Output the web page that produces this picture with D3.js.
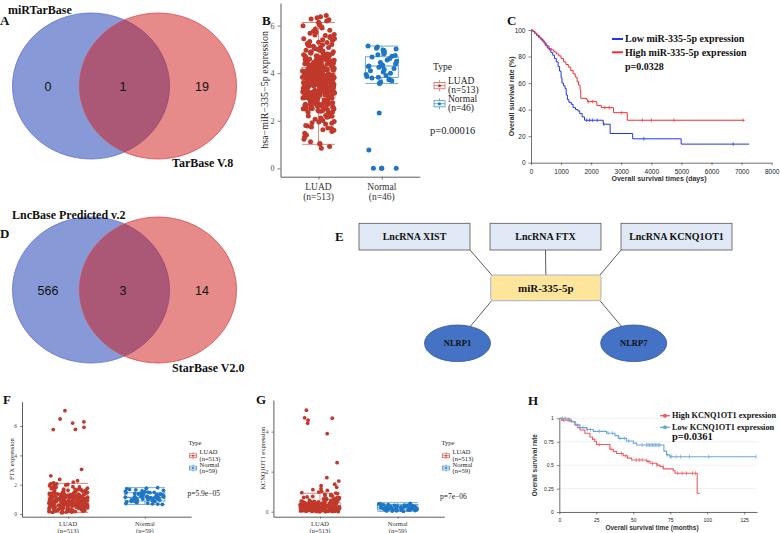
<!DOCTYPE html>
<html>
<head>
<meta charset="utf-8">
<script src="https://cdn.jsdelivr.net/npm/d3@7"></script>
<style>
body { margin: 0; background: #fff; }
svg { display: block; }
</style>
</head>
<body>
<svg id="fig" width="780" height="533"></svg>
<script>
'use strict';

const serif = "'Liberation Serif','Times New Roman',serif";
const sans = "'Liberation Sans',Arial,sans-serif";

// ---- Venn diagrams (A, D)
const vennA = [0, 1, 19];
const vennASets = ["miRTarBase", "TarBase V.8"];
const vennD = [566, 3, 14];
const vennDSets = ["LncBase Predicted v.2", "StarBase V2.0"];

// ---- box / jitter panels (B, F, G)
const groups = ["LUAD", "Normal"];
const nB = [513, 46];
const nFG = [513, 59];
const pTexts = ["p=0.00016", "p=5.9e\u221205", "p=7e\u221206"];
// whisker low, q1, median, q3, whisker high
const statsB = [[1.01, 2.95, 3.5, 4.24, 6.13], [3.57, 3.82, 4.3, 4.69, 5.14]];
const statsF = [[0.1, 0.61, 0.95, 1.3, 2.09], [0.66, 0.89, 1.14, 1.45, 1.8]];
const statsG = [[0, 0.13, 0.25, 0.45, 0.92], [0.02, 0.09, 0.2, 0.36, 0.45]];

const luadB = [6.42,6.37,6.33,6.28,6.25,6.19,6.14,6.1,6.04,5.99,5.95,5.9,5.86,5.81,5.76,5.72,5.68,5.63,5.58,5.54,5.5,5.45,5.41,5.37,5.33,5.29,5.25,5.21,5.17,5.13,5.09,5.06,5.03,4.99,4.96,4.93,4.9,4.87,4.84,4.81,4.78,4.75,4.72,4.69,4.66,4.63,4.6,4.57,4.54,4.51,4.48,4.46,4.43,4.4,4.37,4.35,4.32,4.29,4.27,4.25,
  4.22,4.18,4.24,4.11,4.15,4.07,4.2,4.02,4.13,3.98,4.05,3.94,4.09,3.9,4.0,3.87,3.96,3.83,4.17,3.8,3.92,3.77,3.85,3.74,4.01,3.71,3.88,3.68,3.79,3.65,3.95,3.62,3.73,3.59,3.82,3.56,3.67,3.53,3.76,3.5,3.61,3.47,3.7,3.44,3.55,3.41,3.64,3.38,3.49,3.35,3.58,3.32,3.43,3.29,3.52,3.26,3.37,3.23,3.46,3.2,3.31,3.17,3.4,3.14,3.25,3.11,3.34,3.08,3.19,3.05,3.28,3.02,3.13,2.99,3.22,2.96,3.07,3.16,3.01,3.1,2.97,3.04,
  4.12,3.97,3.84,3.72,3.6,3.48,3.36,3.24,3.12,3.0,4.08,3.93,3.81,3.69,3.57,3.45,3.33,3.21,3.09,2.98,4.16,4.04,3.89,3.78,3.66,3.54,3.42,3.3,3.18,3.06,4.19,3.99,3.86,3.63,3.39,3.15,
  2.93,2.9,2.86,2.83,2.79,2.75,2.71,2.68,2.64,2.6,2.55,2.51,2.46,2.42,2.37,2.33,2.28,2.22,2.17,2.12,2.06,2.01,1.95,1.9,1.86,1.8,1.74,1.68,1.62,1.55,1.48,1.4,1.32,1.22,1.12,1.05,1.01,2.88,2.72,2.58,2.48,2.3,2.15,1.97,1.7,0.92,0.85,
  5.6,5.3,5.0,4.8,4.6,4.45,4.33,5.15,4.7,4.5,4.38,4.28,4.9,4.62,4.42,2.95,2.8,2.65,2.5,2.4,2.2,
  4.14,3.91,3.75,3.58,3.44,3.27,3.11,2.96,4.06,3.83,3.68,3.52,3.36,3.2,3.03,4.21,3.95,3.71,3.47,3.23,2.99,4.1,3.86,3.62,3.38,3.14,2.78,2.62,2.44,2.26,4.55,4.77,4.95,5.2,5.45,3.8,3.55,3.3,
  4.47,4.31,4.03,3.88,3.73,3.57,3.41,3.26,3.12,2.97,2.84,2.69,2.53,4.58,4.36,4.17,3.92,3.69,3.46,3.21,3.02,2.87,2.7,2.57,4.83,4.64,4.41,4.23,4.01,3.84,3.61,3.37,3.17,2.92,2.76,2.59,2.41,4.73,4.52,4.3,4.09,3.87,3.64,3.43,3.22,3.05,2.82,2.63,2.36,5.08,4.88,4.68,4.44,3.96,3.5,3.08,2.74,2.52,2.19,1.92,1.78,1.6];
const normB = [5.14,5.1,5.05,5.02,4.98,4.95,4.9,4.86,4.82,4.78,4.74,4.71,4.68,4.62,4.55,4.5,4.45,4.4,4.36,4.33,4.31,4.3,4.28,4.25,4.2,4.15,4.1,4.05,4.0,3.95,3.9,3.86,3.83,3.8,3.76,3.72,3.68,3.63,3.59,3.57,2.33,0.77,0,0,0,0];

const luadF = [7.05,6.48,6.29,6.2,5.91,5.77,5.76,3.05,2.61,2.36,2.27,2.18,2.12,2.08,2.05,2.02,1.98,1.95,1.93,1.9,1.87,1.85,1.82,1.8,1.78,1.76,1.73,1.71,1.69,1.66,1.64,1.62,1.6,1.58,1.55,1.53,1.51,1.49,1.47,1.45,1.43,1.41,1.39,1.37,1.35,1.33,1.31,1.3,1.28,1.27,1.25,1.24,1.22,1.21,1.19,1.18,1.16,1.15,1.13,1.12,1.1,1.09,1.07,1.06,1.04,1.03,1.01,1.0,0.98,0.97,0.95,0.94,0.92,0.91,0.89,0.88,0.86,0.85,0.83,0.82,0.8,0.79,0.77,0.76,0.74,0.73,0.71,0.7,0.68,0.67,0.65,0.64,0.62,0.61,0.59,0.57,0.55,0.53,0.51,0.49,0.47,0.45,0.43,0.41,0.39,0.37,0.35,0.33,0.31,0.29,0.27,0.25,0.23,0.21,0.19,0.17,0.15,0.13,0.11,0.09,
  1.26,1.14,1.02,0.93,0.84,0.72,0.66,1.36,1.2,1.08,0.96,0.87,0.78,0.63,1.5,1.32,1.17,1.05,0.9,0.81,0.69,1.23,1.11,0.99,0.9,0.75,0.6,1.29,1.07,0.94,0.86,0.58,1.4,1.18,0.97,0.82,0.7,0.52,1.15,1.0,0.88,0.65,1.34,1.09,0.8,0.46,
  1.27,1.19,1.03,0.95,0.87,0.74,0.68,0.56,0.44,0.32,0.2,1.13,1.05,0.91,0.79,0.62,0.38,0.26,0.14,1.22,0.99,0.84,0.71,0.5,0.3,
  1.44,1.31,1.21,1.12,1.04,0.96,0.89,0.81,0.73,0.66,0.57,0.48,0.4,0.28,0.16,1.57,1.38,1.25,1.16,1.06,0.98,0.9,0.83,0.76,0.69,0.6,0.54,0.42,0.34,0.22,1.7,1.47,1.33,1.2,1.1,1.01,0.93,0.85,0.77,0.7,0.63,0.55,0.45,0.36,0.24,0.12,1.83,1.62,1.42,1.28,1.17,1.08,0.92,0.78,0.61,0.47];
const normF = [1.8,1.76,1.72,1.68,1.65,1.62,1.58,1.55,1.52,1.5,1.48,1.46,1.45,1.43,1.41,1.4,1.38,1.36,1.35,1.33,1.31,1.3,1.28,1.27,1.25,1.24,1.22,1.21,1.2,1.19,1.18,1.16,1.15,1.13,1.12,1.1,1.09,1.07,1.05,1.04,1.02,1.0,0.99,0.97,0.96,0.95,0.93,0.91,0.89,0.87,0.85,0.83,0.8,0.78,0.75,0.72,0.7,0.68,0.66];

const luadG = [5.07,4.69,4.67,4.57,4.42,3.9,2.45,1.7,1.53,1.37,1.3,1.22,1.15,1.1,1.06,1.02,0.98,0.95,0.93,
  0.9,0.88,0.85,0.83,0.8,0.78,0.76,0.74,0.72,0.7,0.68,0.66,0.64,0.62,0.6,0.58,0.57,0.55,0.54,0.52,0.51,0.5,0.49,0.48,0.47,0.46,0.45,0.44,0.43,0.42,0.41,0.4,0.39,0.38,0.37,0.36,0.35,0.34,0.33,0.32,0.31,0.3,0.29,0.28,0.27,0.26,0.25,0.24,0.23,0.22,0.21,0.2,0.19,0.18,0.17,0.16,0.15,0.14,0.13,0.12,0.11,0.1,0.09,0.08,0.07,0.06,0.05,0.04,0.03,0.02,0.01,0.0,
  0.35,0.3,0.25,0.2,0.15,0.1,0.05,0.38,0.28,0.18,0.08,0.42,0.32,0.22,0.12,0.02,0.27,0.17,0.07,0.24,0.14,0.04,0.33,0.13,0.03,0.21,0.11,0.01,0.44,0.36,0.26,0.16,0.06,0.31,0.19,0.09,0.29,0.23,0.12,0.4,0.34,0.2,
  0.37,0.29,0.21,0.15,0.09,0.05,0.47,0.41,0.33,0.25,0.17,0.11,0.03,0.56,0.39,0.27,0.19,0.13,0.07,0.01,
  0.43,0.36,0.3,0.24,0.18,0.12,0.06,0.0,0.5,0.41,0.34,0.27,0.21,0.15,0.09,0.03,0.61,0.46,0.38,0.31,0.25,0.19,0.13,0.07,0.01,0.53,0.4,0.32,0.26,0.2,0.14,0.08,0.02,0.66,0.48,0.35,0.28,0.22,0.16,0.1,0.04,0.71,0.59,0.45,0.33,0.23,0.11,0.05,0.0,0.82,0.64,0.52,0.39];
const normG = [0.42,0.4,0.38,0.37,0.36,0.35,0.34,0.33,0.32,0.31,0.3,0.29,0.29,0.28,0.27,0.27,0.26,0.25,0.25,0.24,0.23,0.23,0.22,0.22,0.21,0.21,0.2,0.2,0.19,0.19,0.18,0.18,0.17,0.17,0.16,0.16,0.15,0.15,0.14,0.14,0.13,0.13,0.12,0.12,0.11,0.11,0.1,0.1,0.09,0.09,0.08,0.08,0.07,0.06,0.06,0.05,0.04,0.03,0.02];

// ---- survival panel C (days, %)
const cLow = [[0,100],[60,99],[120,97.5],[180,96],[250,94.5],[320,93],[400,91],[470,88.5],[540,86.5],[600,85],[660,83],[720,81],[780,78.5],[840,76],[900,72.5],[950,69],[1000,64],[1030,60],[1080,58],[1130,56],[1170,51],[1210,47.5],[1260,45.5],[1340,44],[1400,41.5],[1480,40],[1560,39],[1620,37],[1700,34.5],[1780,32],[2400,29],[2630,22],[3380,18],[4990,14],[7250,14]];
const cHigh = [[0,100],[60,99],[130,97.5],[200,96],[280,94],[360,92],[440,90],[520,88],[600,86],[680,85],[760,83.5],[840,82],[920,80.5],[1000,78.5],[1080,76],[1160,74],[1240,72],[1320,69.5],[1400,67],[1470,64.5],[1530,61],[1580,58.5],[1630,55],[1655,48.5],[1850,47.5],[1880,46],[2190,43],[2340,41.5],[2740,37.7],[3200,32],[7100,32]];
const cLowCens = [1850, 1950, 2050, 2200, 2420, 3750, 6720];
const cHighCens = [1900, 2050, 2450, 2600, 3000, 3700, 4000, 4750, 7050];
const cTicksX = [0, 1000, 2000, 3000, 4000, 5000, 6000, 7000, 8000];
const cTicksY = [0, 20, 40, 60, 80, 100];
const cLegend = ["Low miR-335-5p expression", "High miR-335-5p expression", "p=0.0328"];

// ---- survival panel H (months, fraction)
const hHigh = [[0,1],[1.6,0.98],[8.3,0.965],[10.6,0.93],[12.5,0.9],[14,0.875],[17.3,0.84],[20.7,0.8],[22.5,0.775],[24,0.75],[25.2,0.72],[34.2,0.67],[36.5,0.645],[38.7,0.625],[43.2,0.6],[46,0.575],[48.9,0.555],[59,0.54],[61.3,0.52],[66,0.5],[68,0.485],[70.3,0.46],[77,0.44],[78.2,0.413],[93.2,0.2],[95,0.2]];
const hLow = [[0,1],[7.2,0.965],[10.6,0.93],[14,0.9],[18.5,0.88],[23,0.86],[32,0.84],[37.6,0.815],[39.9,0.786],[45.5,0.758],[50,0.735],[52.3,0.715],[70.7,0.65],[72.5,0.61],[74.8,0.59],[133,0.59]];
const hHighCens = [3, 6, 27, 35, 42, 45, 52, 54, 56, 60, 63, 66, 70, 80, 83, 86, 90, 92];
const hLowCens = [2, 4, 12, 16, 19, 21, 27, 33, 36, 41, 44, 47, 56, 59, 60, 61, 62, 63, 64, 65, 66, 67, 68, 73, 75, 76, 79, 82, 88, 101, 133];
const hTicksX = [0, 25, 50, 75, 100, 125];
const hTicksY = [0, 0.25, 0.5, 0.75, 1];
const hLegend = ["High KCNQ1OT1 expression", "Low KCNQ1OT1 expression", "p=0.0361"];

// ---- network E
const lncRNAs = ["LncRNA XIST", "LncRNA FTX", "LncRNA KCNQ1OT1"];
const hub = "miR-335-5p";
const targets = ["NLRP1", "NLRP7"];

const svg = d3.select("#fig");

let letter = (t, x, y) => {
    svg.append("text").text(t).attr("x", x).attr("y", y)
        .attr("font-family", serif).attr("font-weight", "bold").attr("font-size", 13).attr("fill", "#111");
}

// deterministic jitter in [0,1) for point j (position only, not data)
let jit = (j, seed) => {
    const s = Math.sin((j + 1) * 12.9898 + seed * 78.233) * 43758.5453;
    return s - Math.floor(s);
}

let venn = (cx, cy, counts, sets, lab1, lab2) => {
    const g = svg.append("g");
    g.append("ellipse").attr("cx", cx - 33.5).attr("cy", cy).attr("rx", 78.5).attr("ry", 73)
        .attr("fill", "#8799d6").attr("stroke", "#5f72cf").attr("stroke-width", 0.8);
    g.append("ellipse").attr("cx", cx + 33.5).attr("cy", cy).attr("rx", 78.5).attr("ry", 73)
        .attr("fill", "rgb(206,26,26)").attr("fill-opacity", 0.51)
        .attr("stroke", "#d9474c").attr("stroke-width", 0.8);
    const offs = [-76.5, -1.5, 77.5];
    g.selectAll("text.cnt").data(counts).enter().append("text")
        .attr("class", "cnt")
        .text(d => d)
        .attr("x", (d, i) => cx + offs[i]).attr("y", cy + 4.5)
        .attr("text-anchor", "middle").attr("font-family", sans).attr("font-size", 12.5).attr("fill", "#111");
    g.append("text").text(sets[0]).attr("x", lab1[0]).attr("y", lab1[1])
        .attr("font-family", serif).attr("font-weight", "bold").attr("font-size", 12).attr("fill", "#111");
    g.append("text").text(sets[1]).attr("x", lab2[0]).attr("y", lab2[1])
        .attr("font-family", serif).attr("font-weight", "bold").attr("font-size", 12).attr("fill", "#111");
}

const cols = {
    LUAD: { dot: "#c0392b", box: "#d86a5d" },
    Normal: { dot: "#1f77c4", box: "#4b93d2" }
};

let boxPanel = (o) => {
    const g = svg.append("g");
    const x = d3.scalePoint().domain(groups).range([o.x0, o.x1]).padding(0.6);
    const y = d3.scaleLinear().domain(o.ydom).range([o.yb, o.yt]);
    const bw = x.step() * 0.52;

    // axes
    const ya = g.append("g").attr("transform", `translate(${o.x0},0)`)
        .call(d3.axisLeft(y).tickValues(o.yticks).tickSize(o.tk).tickSizeOuter(0).tickFormat(d3.format("d")));
    ya.selectAll("text").attr("font-family", serif).attr("font-size", o.tfs).attr("fill", "#4d4d4d");
    ya.selectAll("line").attr("stroke", "#333").attr("stroke-width", 0.6);
    ya.select(".domain").attr("stroke", "#333").attr("stroke-width", 0.8);
    const xa = g.append("g").attr("transform", `translate(0,${o.yb})`)
        .call(d3.axisBottom(x).tickSize(o.tk).tickSizeOuter(0).tickFormat(""));
    xa.selectAll("line").attr("stroke", "#333").attr("stroke-width", 0.6);
    xa.select(".domain").attr("stroke", "#333").attr("stroke-width", 0.8);
    groups.forEach((k, i) => {
        g.append("text").text(k).attr("x", x(k)).attr("y", o.yb + o.cfs * 1.45)
            .attr("text-anchor", "middle").attr("font-family", serif).attr("font-size", o.cfs).attr("fill", "#333");
        g.append("text").text(`(n=${o.n[i]})`).attr("x", x(k)).attr("y", o.yb + o.cfs * 2.45)
            .attr("text-anchor", "middle").attr("font-family", serif).attr("font-size", o.cfs).attr("fill", "#333");
    });
    g.append("text").text(o.ytitle)
        .attr("transform", `translate(${o.ytx},${(o.yt + o.yb) / 2}) rotate(-90)`)
        .attr("text-anchor", "middle").attr("font-family", serif).attr("font-size", o.yfs).attr("fill", "#222");

    // boxes
    groups.forEach((k, i) => {
        const s = o.stats[i];
        const cx = x(k);
        const c = cols[k].box;
        const bg = g.append("g").attr("stroke", c).attr("stroke-width", 0.8).attr("fill", "none");
        bg.append("line").attr("x1", cx).attr("x2", cx).attr("y1", y(s[4])).attr("y2", y(s[3]));
        bg.append("line").attr("x1", cx).attr("x2", cx).attr("y1", y(s[1])).attr("y2", y(s[0]));
        bg.append("line").attr("x1", cx - bw / 2).attr("x2", cx + bw / 2).attr("y1", y(s[4])).attr("y2", y(s[4]));
        bg.append("line").attr("x1", cx - bw / 2).attr("x2", cx + bw / 2).attr("y1", y(s[0])).attr("y2", y(s[0]));
        bg.append("rect").attr("x", cx - bw / 2).attr("width", bw).attr("y", y(s[3])).attr("height", y(s[1]) - y(s[3]));
        bg.append("line").attr("x1", cx - bw / 2).attr("x2", cx + bw / 2).attr("y1", y(s[2])).attr("y2", y(s[2]))
            .attr("stroke-width", 1.1);
    });

    // jittered points
    groups.forEach((k, i) => {
        const cx = x(k);
        g.append("g").selectAll("circle").data(o.vals[i]).enter().append("circle")
            .attr("cx", (d, j) => cx + (jit(j, i + o.seed) - 0.5) * bw * 0.98)
            .attr("cy", d => y(d))
            .attr("r", o.r)
            .attr("fill", cols[k].dot);
    });

    // legend
    const L = o.leg;
    g.append("text").text("Type").attr("x", L.x).attr("y", L.y)
        .attr("font-family", serif).attr("font-size", L.fs).attr("fill", "#222");
    groups.forEach((k, i) => {
        const base = L.y + L.fs * 1.45 + i * L.fs * 1.9;
        const kx = L.x + L.ks / 2 + 1;
        const ky = base + L.fs * 0.2 - L.ks / 2;
        const c = cols[k];
        const kg = g.append("g").attr("stroke", c.box).attr("stroke-width", 0.8).attr("fill", "none");
        kg.append("line").attr("x1", kx).attr("x2", kx).attr("y1", ky).attr("y2", ky + L.ks);
        kg.append("rect").attr("x", kx - L.ks / 2).attr("y", ky + L.ks * 0.22).attr("width", L.ks).attr("height", L.ks * 0.56).attr("fill", "#fff");
        kg.append("line").attr("x1", kx - L.ks / 2).attr("x2", kx + L.ks / 2).attr("y1", ky + L.ks / 2).attr("y2", ky + L.ks / 2);
        g.append("circle").attr("cx", kx).attr("cy", ky + L.ks / 2).attr("r", L.ks * 0.14).attr("fill", c.dot);
        g.append("text").text(k).attr("x", L.x + L.ks + 4).attr("y", base)
            .attr("font-family", serif).attr("font-size", L.fs).attr("fill", "#222");
        g.append("text").text(`(n=${o.n[i]})`).attr("x", L.x + L.ks + 4).attr("y", base + L.fs)
            .attr("font-family", serif).attr("font-size", L.fs).attr("fill", "#222");
    });
    g.append("text").text(o.p).attr("x", L.px).attr("y", L.py)
        .attr("font-family", serif).attr("font-size", L.pfs).attr("fill", "#222");
}

let stepAt = (steps, t) => {
    let s = steps[0][1];
    for (const d of steps) { if (d[0] <= t) s = d[1]; }
    return s;
}

let kmPanel = (o) => {
    const g = svg.append("g");
    const x = d3.scaleLinear().domain(o.xdom).range([o.x0, o.x1]);
    const y = d3.scaleLinear().domain(o.ydom).range([o.yb, o.yt]);

    if (o.grid) {
        g.selectAll("line.grid").data(o.yticks).enter().append("line")
            .attr("x1", o.x0).attr("x2", o.x1).attr("y1", d => y(d)).attr("y2", d => y(d))
            .attr("stroke", "#e6e6e6").attr("stroke-width", 0.6);
    }
    const ya = g.append("g").attr("transform", `translate(${o.x0},0)`)
        .call(d3.axisLeft(y).tickValues(o.yticks).tickSize(2.5).tickSizeOuter(0).tickFormat(o.yfmt));
    const xa = g.append("g").attr("transform", `translate(0,${o.yb})`)
        .call(d3.axisBottom(x).tickValues(o.xticks).tickSize(2.5).tickSizeOuter(0).tickFormat(d3.format("d")));
    [ya, xa].forEach(a => {
        a.selectAll("text").attr("font-family", sans).attr("font-size", o.tfs).attr("fill", "#222");
        a.selectAll("line").attr("stroke", "#333").attr("stroke-width", 0.6);
        a.select(".domain").attr("stroke", "#333").attr("stroke-width", 0.7);
    });
    xa.selectAll("text").attr("dy", "0.9em");
    g.append("text").text(o.xtitle).attr("x", o.xtx).attr("y", o.xty)
        .attr("text-anchor", "middle").attr("font-family", sans).attr("font-weight", "bold")
        .attr("font-size", o.lfs).attr("fill", "#333");
    g.append("text").text(o.ytitle)
        .attr("transform", `translate(${o.ytx},${(o.yt + o.yb) / 2}) rotate(-90)`)
        .attr("text-anchor", "middle").attr("font-family", sans).attr("font-weight", "bold")
        .attr("font-size", o.lfs).attr("fill", "#333");

    const line = d3.line().curve(d3.curveStepAfter).x(d => x(d[0])).y(d => y(d[1]));
    o.curves.forEach(c => {
        g.append("path").datum(c.steps).attr("d", line)
            .attr("fill", "none").attr("stroke", c.color).attr("stroke-width", o.lw);
        g.append("g").selectAll("line").data(c.cens).enter().append("line")
            .attr("x1", d => x(d)).attr("x2", d => x(d))
            .attr("y1", d => y(stepAt(c.steps, d)) - o.ck).attr("y2", d => y(stepAt(c.steps, d)) + o.ck)
            .attr("stroke", c.color).attr("stroke-width", 0.7);
    });

    // legend
    const L = o.leg;
    o.curves.forEach((c, i) => {
        const ly = L.y + i * L.dy;
        g.append("line").attr("x1", L.x).attr("x2", L.x + L.len).attr("y1", ly).attr("y2", ly)
            .attr("stroke", c.color).attr("stroke-width", L.lw);
        if (L.dot) {
            g.append("circle").attr("cx", L.x + L.len / 2).attr("cy", ly).attr("r", 2).attr("fill", c.color);
        }
        g.append("text").text(o.labels[i]).attr("x", L.tx).attr("y", ly + L.fs * 0.33)
            .attr("font-family", serif).attr("font-weight", "bold").attr("font-size", L.fs).attr("fill", "#111");
    });
    g.append("text").text(o.labels[2]).attr("x", L.px).attr("y", L.py)
        .attr("font-family", serif).attr("font-weight", "bold").attr("font-size", L.pfs).attr("fill", "#111");
}

// A
venn(124.5, 86, vennA, vennASets, [8, 14], [172, 167]);
letter("A", 0, 25);

// B
letter("B", 262, 25);
boxPanel({
    x0: 280.5, x1: 419.8, yt: 3, yb: 176.7, ydom: [-0.35, 6.95], yticks: [0, 2, 4, 6], tk: 3,
    tfs: 8, cfs: 9.5, yfs: 10, ytx: 268, ytitle: "hsa\u2212miR\u2212335\u22125p expression",
    n: nB, stats: statsB, vals: [luadB, normB], r: 2.5, seed: 1, p: pTexts[0],
    leg: { x: 433, y: 70, fs: 9.5, ks: 11, px: 430, py: 134, pfs: 10.5 }
});

// C
letter("C", 507, 25);
kmPanel({
    xdom: [0, 8000], ydom: [0, 100], x0: 531, x1: 771.7, yb: 162.7, yt: 30,
    xticks: cTicksX, yticks: cTicksY, yfmt: d3.format("d"), tfs: 6.5, lfs: 7,
    xtitle: "Overall survival times (days)", xtx: 659, xty: 181, ytitle: "Overall survival rate (%)", ytx: 514,
    lw: 1, ck: 1.8,
    curves: [{ steps: cLow, cens: cLowCens, color: "#2233ee" }, { steps: cHigh, cens: cHighCens, color: "#f03030" }],
    labels: cLegend,
    leg: { x: 612, len: 11, lw: 2, y: 39, dy: 13.3, tx: 625, fs: 10, px: 625, py: 70, pfs: 10 }
});

// D
venn(124.5, 290, vennD, vennDSets, [12, 219], [172, 372]);
letter("D", 0, 238);

// E network
letter("E", 335, 241);
{
    const g = svg.append("g");
    const bx = d3.scaleBand().domain(lncRNAs).range([359, 732]).paddingInner(20 / 131).paddingOuter(0);
    const tx = d3.scalePoint().domain(targets).range([457.5, 633.7]);
    const boxTop = 223.3, boxH = 26.7;
    const hubX = 490.7, hubW = 110.3, hubY = 275, hubH = 25.7;
    const ellY = 343.3;
    const ln = g.append("g").attr("stroke", "#333").attr("stroke-width", 0.8);
    lncRNAs.forEach((k, i) => {
        const x1 = i === 0 ? bx(k) + bx.bandwidth() : i === 2 ? bx(k) : bx(k) + bx.bandwidth() / 2;
        const x2 = i === 0 ? hubX + 1 : i === 2 ? hubX + hubW - 1 : hubX + hubW / 2;
        ln.append("line").attr("x1", x1).attr("y1", boxTop + boxH).attr("x2", x2).attr("y2", hubY);
    });
    targets.forEach((k, i) => {
        const x1 = i === 0 ? hubX + 1 : hubX + hubW - 1;
        const x2 = tx(k) + (i === 0 ? 12.5 : -12);
        ln.append("line").attr("x1", x1).attr("y1", hubY + hubH).attr("x2", x2).attr("y2", ellY - 16.6);
    });
    g.selectAll("rect.lnc").data(lncRNAs).enter().append("rect").attr("class", "lnc")
        .attr("x", d => bx(d)).attr("y", boxTop).attr("width", bx.bandwidth()).attr("height", boxH)
        .attr("fill", "#dfe8f4").attr("stroke", "#555").attr("stroke-width", 0.8);
    g.selectAll("text.lnc").data(lncRNAs).enter().append("text").attr("class", "lnc")
        .text(d => d).attr("x", d => bx(d) + bx.bandwidth() / 2).attr("y", boxTop + boxH / 2 + 3.5)
        .attr("text-anchor", "middle").attr("font-family", serif).attr("font-weight", "bold")
        .attr("font-size", 10).attr("fill", "#111");
    g.append("rect").attr("x", hubX).attr("y", hubY).attr("width", hubW).attr("height", hubH).attr("rx", 2.5)
        .attr("fill", "#fee59c").attr("stroke", "#8fa3cc").attr("stroke-width", 0.8);
    g.append("text").text(hub).attr("x", hubX + hubW / 2).attr("y", hubY + hubH / 2 + 4)
        .attr("text-anchor", "middle").attr("font-family", serif).attr("font-weight", "bold")
        .attr("font-size", 11).attr("fill", "#111");
    g.selectAll("ellipse").data(targets).enter().append("ellipse")
        .attr("cx", d => tx(d)).attr("cy", ellY).attr("rx", 33).attr("ry", 18.3)
        .attr("fill", "#4472c4").attr("stroke", "#2f5597").attr("stroke-width", 0.8);
    g.selectAll("text.tg").data(targets).enter().append("text").attr("class", "tg")
        .text(d => d).attr("x", d => tx(d)).attr("y", ellY + 3)
        .attr("text-anchor", "middle").attr("font-family", serif).attr("font-weight", "bold")
        .attr("font-size", 8.5).attr("fill", "#111");
}

// F
letter("F", 3, 404);
boxPanel({
    x0: 22, x1: 191, yt: 401.7, yb: 516.7, ydom: [-0.18, 7.66], yticks: [0, 2, 4, 6], tk: 2,
    tfs: 5.5, cfs: 6.5, yfs: 6.5, ytx: 14, ytitle: "FTX expression",
    n: nFG, stats: statsF, vals: [luadF, normF], r: 1.9, seed: 3, p: pTexts[1],
    leg: { x: 188.5, y: 445, fs: 6.5, ks: 7, px: 187.5, py: 496, pfs: 7.5 }
});

// G
letter("G", 256, 404);
boxPanel({
    x0: 273.4, x1: 444.3, yt: 400, yb: 516.7, ydom: [-0.25, 5.58], yticks: [0, 2, 4], tk: 2,
    tfs: 5.5, cfs: 6.5, yfs: 6.5, ytx: 265, ytitle: "KCNQ1OT1 expression",
    n: nFG, stats: statsG, vals: [luadG, normG], r: 1.9, seed: 5, p: pTexts[2],
    leg: { x: 441.5, y: 445, fs: 6.5, ks: 7, px: 440, py: 499, pfs: 7.5 }
});

// H
letter("H", 528, 405);
kmPanel({
    xdom: [0, 133.7], ydom: [0, 1], x0: 559.3, x1: 757.1, yb: 512, yt: 418.3,
    xticks: hTicksX, yticks: hTicksY, yfmt: d => d3.format("")(d), tfs: 5, lfs: 6.5,
    xtitle: "Overall survival time (months)", xtx: 652, xty: 530, ytitle: "Overall survival rate", ytx: 537,
    lw: 1.1, ck: 2, grid: true,
    curves: [{ steps: hHigh, cens: hHighCens, color: "#f05a5c" }, { steps: hLow, cens: hLowCens, color: "#6aa6dc" }],
    labels: hLegend,
    leg: { x: 660, len: 10, lw: 1.3, dot: true, y: 415.7, dy: 11.6, tx: 672, fs: 8.3, px: 672, py: 440, pfs: 10.5 }
});
</script>
</body>
</html>
